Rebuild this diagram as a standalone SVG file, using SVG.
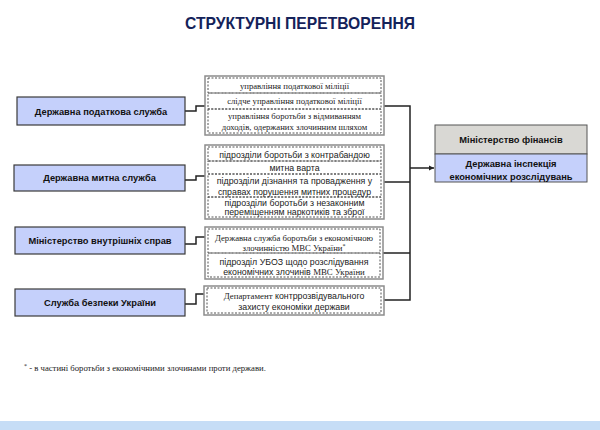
<svg xmlns="http://www.w3.org/2000/svg" width="600" height="430" viewBox="0 0 600 430">
<defs>
<style>
.title{font-family:"Liberation Sans",Arial,sans-serif;font-weight:bold;font-size:17px;fill:#14225a;text-anchor:middle}
.lbox{fill:#c5d0fb;stroke:#3a3a3a;stroke-width:1.2}
.ltxt{font-family:"Liberation Sans",Arial,sans-serif;font-weight:bold;font-size:9.3px;fill:#111;text-anchor:middle}
.outer{fill:#fff;stroke:#8c8c8c;stroke-width:1.5}
.inner{fill:none;stroke:#555;stroke-width:1;stroke-dasharray:2 1.5}
.ser{font-family:"Liberation Serif","Times New Roman",serif;font-size:8.7px;fill:#222;text-anchor:middle}
.san{font-family:"Liberation Sans",Arial,sans-serif;font-size:8.8px;fill:#222;text-anchor:middle}
.conn{fill:none;stroke:#222;stroke-width:1.5}
.minfin{fill:#d9d8d4;stroke:#555;stroke-width:1}
.dier{fill:#c5d0fb;stroke:#555;stroke-width:1}
.foot{font-family:"Liberation Serif","Times New Roman",serif;font-size:8.7px;fill:#222}
</style>
<marker id="arr" markerWidth="6" markerHeight="6" refX="5" refY="3" orient="auto" markerUnits="userSpaceOnUse">
<path d="M0,0.5 L5,3 L0,5.5 Z" fill="#222"/>
</marker>
</defs>
<rect width="600" height="430" fill="#fff"/>
<text class="title" x="300" y="29" textLength="230" lengthAdjust="spacingAndGlyphs">СТРУКТУРНІ ПЕРЕТВОРЕННЯ</text>

<g id="connectors">
<path class="conn" d="M185 111 H196 V106 H205"/>
<path class="conn" d="M185 180 H196 V176 H205"/>
<path class="conn" d="M185 244 H196 V237 H205"/>
<path class="conn" d="M185 304 H196 V294 H204"/>
<path class="conn" d="M384 106 H410 V300 H384"/>
<path class="conn" d="M384 182 H410"/>
<path class="conn" d="M383 253 H410"/>
<path class="conn" d="M410 168 H434" marker-end="url(#arr)"/>
</g>

<g id="dps">
<rect class="lbox" x="17" y="97" width="168" height="28"/>
<text class="ltxt" x="101" y="114.5">Державна податкова служба</text>
</g>
<g id="dms">
<rect class="lbox" x="14" y="165" width="171" height="26"/>
<text class="ltxt" x="99.5" y="181">Державна митна служба</text>
</g>
<g id="mvs">
<rect class="lbox" x="15" y="227" width="170" height="27"/>
<text class="ltxt" x="100" y="243.5">Міністерство внутрішніх справ</text>
</g>
<g id="sbu">
<rect class="lbox" x="15" y="289" width="170" height="27"/>
<text class="ltxt" x="100" y="305.5">Служба безпеки України</text>
</g>

<g id="tax-units">
<rect class="outer" x="205" y="76" width="179" height="59"/>
<rect class="inner" x="208" y="78" width="173" height="15"/>
<rect class="inner" x="208" y="93" width="173" height="16"/>
<rect class="inner" x="208" y="109" width="173" height="24"/>
<text class="ser" x="294.5" y="88.5">управління податкової міліції</text>
<text class="ser" x="294.5" y="104">слідче управління податкової міліції</text>
<text class="ser" x="294.5" y="119">управління боротьби з відмиванням</text>
<text class="ser" x="294.5" y="130">доходів, одержаних злочинним шляхом</text>
</g>

<g id="customs-units">
<rect class="outer" x="205" y="145" width="179" height="74"/>
<rect class="inner" x="208" y="147" width="173" height="14"/>
<rect class="inner" x="208" y="161" width="173" height="13"/>
<rect class="inner" x="208" y="174" width="173" height="23"/>
<rect class="inner" x="208" y="197" width="173" height="20"/>
<text class="san" x="294.5" y="157.5">підрозділи боротьби з контрабандою</text>
<text class="san" x="294.5" y="171">митна варта</text>
<text class="san" x="294.5" y="184">підрозділи дізнання та провадження у</text>
<text class="san" x="294.5" y="194.5">справах порушення митних процедур</text>
<text class="san" x="294.5" y="205.5">підрозділи боротьби з незаконним</text>
<text class="san" x="294.5" y="215">переміщенням наркотиків та зброї</text>
</g>

<g id="mvs-units">
<rect class="outer" x="205" y="227" width="178" height="52"/>
<rect class="inner" x="208" y="229" width="172" height="24"/>
<rect class="inner" x="208" y="253" width="172" height="24"/>
<text class="ser" x="294" y="240.5">Державна служба боротьби з економічною</text>
<text class="ser" x="294" y="250.5">злочинністю МВС України<tspan font-size="6" dy="-3">*</tspan></text>
<text class="san" x="294" y="264.5">підрозділ УБОЗ щодо розслідування</text>
<text class="san" x="294" y="274.5">економічних злочинів  <tspan font-family="Liberation Serif, serif">МВС України</tspan></text>
</g>

<g id="sbu-units">
<rect class="outer" x="204" y="286" width="180" height="29"/>
<rect class="inner" x="207" y="288" width="174" height="25"/>
<text class="san" x="294" y="298.5"><tspan font-family="Liberation Serif, serif">Департамент</tspan> контррозвідувального</text>
<text class="san" x="294" y="309.5">захисту економіки держави</text>
</g>

<g id="minfin">
<rect class="minfin" x="435" y="125" width="152" height="29"/>
<text class="ltxt" x="511" y="142.5" font-size="8.7">Міністерство фінансів</text>
</g>
<g id="dier">
<rect class="dier" x="435" y="154" width="152" height="28"/>
<text class="ltxt" x="511" y="166.5" font-size="12.6">Державна інспекція</text>
<text class="ltxt" x="511" y="179.5" font-size="12.6">економічних розслідувань</text>
</g>

<text class="foot" x="24" y="371"><tspan font-size="6" dy="-3">*</tspan><tspan dy="3"> - в частині боротьби з економічними злочинами проти держави.</tspan></text>
<rect x="0" y="421" width="600" height="9" fill="#c6ddf6"/>
</svg>
